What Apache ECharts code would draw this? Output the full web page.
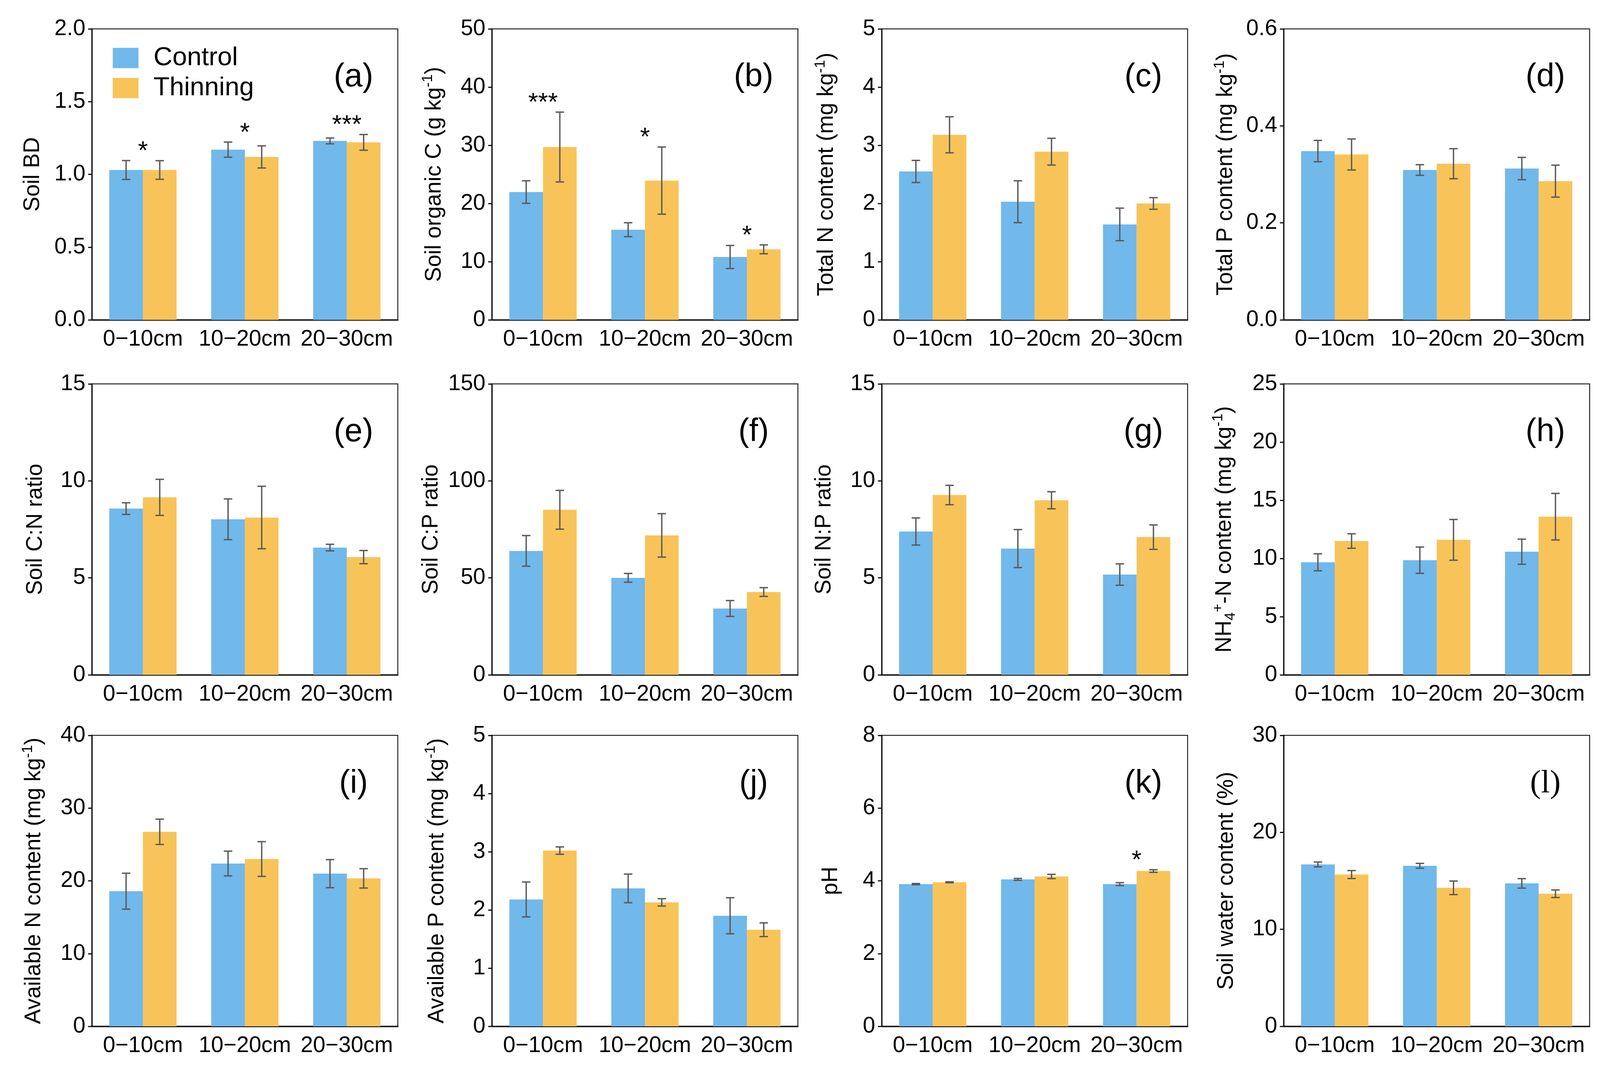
<!DOCTYPE html>
<html><head><meta charset="utf-8">
<script src="https://cdn.jsdelivr.net/npm/echarts@6/dist/echarts.min.js"></script>
<style>html,body{margin:0;padding:0;background:#fff;overflow:hidden}#c{width:100vw;height:100vh}</style>
</head><body><div id="c"></div>
<script>
// ---------- categories ----------
const depths = ['0\u221210cm', '10\u221220cm', '20\u221230cm'];
const treatments = ['Control', 'Thinning'];

// ---------- data (mean, standard error) ----------
const bd_control = [1.03, 1.17, 1.23];
const bd_control_se = [0.065, 0.052, 0.02];
const bd_thinning = [1.03, 1.12, 1.22];
const bd_thinning_se = [0.064, 0.076, 0.054];
const bd_sig = ['*', '*', '***'];

const soc_control = [21.96, 15.49, 10.8];
const soc_control_se = [1.94, 1.2, 1.98];
const soc_thinning = [29.7, 23.93, 12.12];
const soc_thinning_se = [6.0, 5.77, 0.76];
const soc_sig = ['***', '*', '*'];

const tn_control = [2.55, 2.03, 1.64];
const tn_control_se = [0.19, 0.36, 0.28];
const tn_thinning = [3.18, 2.89, 2.0];
const tn_thinning_se = [0.31, 0.23, 0.1];

const tp_control = [0.348, 0.309, 0.312];
const tp_control_se = [0.022, 0.011, 0.023];
const tp_thinning = [0.341, 0.322, 0.286];
const tp_thinning_se = [0.032, 0.031, 0.033];

const cn_control = [8.57, 8.02, 6.56];
const cn_control_se = [0.3, 1.05, 0.17];
const cn_thinning = [9.15, 8.11, 6.07];
const cn_thinning_se = [0.93, 1.61, 0.34];

const cp_control = [63.9, 50.0, 34.2];
const cp_control_se = [7.9, 2.26, 4.1];
const cp_thinning = [85.1, 71.9, 42.7];
const cp_thinning_se = [10.0, 11.2, 2.26];

const np_control = [7.39, 6.51, 5.17];
const np_control_se = [0.70, 0.98, 0.55];
const np_thinning = [9.27, 9.0, 7.1];
const np_thinning_se = [0.5, 0.44, 0.63];

const nh4_control = [9.67, 9.85, 10.58];
const nh4_control_se = [0.73, 1.13, 1.08];
const nh4_thinning = [11.5, 11.6, 13.59];
const nh4_thinning_se = [0.62, 1.75, 2.0];

const an_control = [18.58, 22.38, 20.99];
const an_control_se = [2.47, 1.7, 1.93];
const an_thinning = [26.74, 23.0, 20.34];
const an_thinning_se = [1.74, 2.39, 1.33];

const ap_control = [2.18, 2.37, 1.90];
const ap_control_se = [0.3, 0.246, 0.31];
const ap_thinning = [3.02, 2.13, 1.66];
const ap_thinning_se = [0.063, 0.063, 0.118];

const ph_control = [3.91, 4.04, 3.91];
const ph_control_se = [0.016, 0.026, 0.04];
const ph_thinning = [3.96, 4.12, 4.27];
const ph_thinning_se = [0.013, 0.059, 0.036];
const ph_sig = ['', '', '*'];

const swc_control = [16.69, 16.55, 14.74];
const swc_control_se = [0.25, 0.25, 0.49];
const swc_thinning = [15.65, 14.28, 13.67];
const swc_thinning_se = [0.41, 0.7, 0.39];

// ---------- y-axis tick settings ----------
const yMax = [2.0, 50, 5, 0.6, 15, 150, 15, 25, 40, 5, 8, 30];
const yInterval = [0.5, 10, 1, 0.2, 5, 50, 5, 5, 10, 1, 2, 10];
const yDecimals = [1, 0, 0, 1, 0, 0, 0, 0, 0, 0, 0, 0];
const letters = ['(a)', '(b)', '(c)', '(d)', '(e)', '(f)', '(g)', '(h)', '(i)', '(j)', '(k)', '(l)'];
const yTitles = [
  '{t|Soil BD}',
  '{t|Soil organic C (g kg}{s|-1}{t|)}',
  '{t|Total N content (mg kg}{s|-1}{t|)}',
  '{t|Total P content (mg kg}{s|-1}{t|)}',
  '{t|Soil C:N ratio}',
  '{t|Soil C:P ratio}',
  '{t|Soil N:P ratio}',
  '{t|NH}{b|4}{s|+}{t|-N content (mg kg}{s|-1}{t|)}',
  '{t|Available N content (mg kg}{s|-1}{t|)}',
  '{t|Available P content (mg kg}{s|-1}{t|)}',
  '{t|pH}',
  '{t|Soil water content (%)}'
];

const panels = [
  [bd_control, bd_control_se, bd_thinning, bd_thinning_se, bd_sig],
  [soc_control, soc_control_se, soc_thinning, soc_thinning_se, soc_sig],
  [tn_control, tn_control_se, tn_thinning, tn_thinning_se, null],
  [tp_control, tp_control_se, tp_thinning, tp_thinning_se, null],
  [cn_control, cn_control_se, cn_thinning, cn_thinning_se, null],
  [cp_control, cp_control_se, cp_thinning, cp_thinning_se, null],
  [np_control, np_control_se, np_thinning, np_thinning_se, null],
  [nh4_control, nh4_control_se, nh4_thinning, nh4_thinning_se, null],
  [an_control, an_control_se, an_thinning, an_thinning_se, null],
  [ap_control, ap_control_se, ap_thinning, ap_thinning_se, null],
  [ph_control, ph_control_se, ph_thinning, ph_thinning_se, ph_sig],
  [swc_control, swc_control_se, swc_thinning, swc_thinning_se, null]
];

// ---------- layout (reference pixels, scaled to the actual viewport) ----------
const el = document.getElementById('c');
const VW = el.clientWidth || window.innerWidth, VH = el.clientHeight || window.innerHeight;
const SX = VW / 4159, SY = VH / 2745, SF = Math.min(SX, SY);
const px = v => v * SX, py = v => v * SY, pf = v => v * SF;

const FONT = "'Liberation Sans', Arial, Helvetica, sans-serif";
const COL_LEFT = [239, 1279, 2292, 3337];
const ROW_TOP = [74, 983, 1883];
const GW = 795, GH = 745;
const NAME_GAP = [118, 115, 108, 115, 111, 123, 114, 119, 115, 108, 97, 113];
const BLUE = '#71B8EB', ORANGE = '#F8C459', ERR = '#5a5a5a';
const BAR_FRAC = 0.33;

const grids = [], xAxes = [], yAxes = [], series = [], graphics = [];

function errRenderer(params, api) {
  const cat = api.value(0), lo = api.value(1), hi = api.value(2), s = api.value(3);
  const band = api.size([1, 0])[0];
  const off = (s === 0 ? -1 : 1) * band * BAR_FRAC / 2;
  const pt = api.coord([cat, hi]);
  const pb = api.coord([cat, lo]);
  const x = pt[0] + off, cap = pf(11);
  const st = { stroke: ERR, lineWidth: pf(3.5) };
  return {
    type: 'group', children: [
      { type: 'line', shape: { x1: x, y1: pt[1], x2: x, y2: pb[1] }, style: st },
      { type: 'line', shape: { x1: x - cap, y1: pt[1], x2: x + cap, y2: pt[1] }, style: st },
      { type: 'line', shape: { x1: x - cap, y1: pb[1], x2: x + cap, y2: pb[1] }, style: st }
    ]
  };
}

panels.forEach((p, i) => {
  const [cm, cse, tm, tse, sig] = p;
  const row = Math.floor(i / 4), col = i % 4;
  const left = COL_LEFT[col], top = ROW_TOP[row];
  grids.push({ left: px(left), top: py(top), width: px(GW), height: py(GH), show: true,
    borderColor: '#222', borderWidth: pf(2.5), backgroundColor: 'transparent', containLabel: false });
  xAxes.push({
    type: 'category', gridIndex: i, data: depths, boundaryGap: true,
    axisLine: { lineStyle: { color: '#111', width: pf(3.5) } },
    axisTick: { show: false },
    axisLabel: { fontSize: pf(58), fontFamily: FONT, color: '#000', margin: py(22), interval: 0 }
  });
  const dec = yDecimals[i];
  yAxes.push({
    type: 'value', gridIndex: i, min: 0, max: yMax[i], interval: yInterval[i],
    name: yTitles[i], nameLocation: 'middle', nameGap: px(NAME_GAP[i]),
    nameTextStyle: {
      fontFamily: FONT, color: '#000',
      rich: {
        t: { fontSize: pf(58), fontFamily: FONT, color: '#000', lineHeight: pf(70) },
        s: { fontSize: pf(38), fontFamily: FONT, color: '#000', lineHeight: pf(38), verticalAlign: 'top' },
        b: { fontSize: pf(38), fontFamily: FONT, color: '#000', lineHeight: pf(38), verticalAlign: 'bottom' }
      }
    },
    axisLine: { show: true, lineStyle: { color: '#111', width: pf(3.5) } },
    axisTick: { show: true, inside: false, length: px(10), lineStyle: { color: '#111', width: pf(3) } },
    splitLine: { show: false },
    axisLabel: { fontSize: pf(58), fontFamily: FONT, color: '#000', margin: px(17),
      formatter: v => v.toFixed(dec) }
  });
  series.push({ type: 'bar', name: treatments[0], xAxisIndex: i, yAxisIndex: i, data: cm,
    barWidth: (BAR_FRAC * 100) + '%', barGap: '0%', itemStyle: { color: BLUE }, z: 2, silent: true });
  series.push({ type: 'bar', name: treatments[1], xAxisIndex: i, yAxisIndex: i, data: tm,
    barWidth: (BAR_FRAC * 100) + '%', barGap: '0%', itemStyle: { color: ORANGE }, z: 2, silent: true });
  const errData = [];
  for (let k = 0; k < depths.length; k++) {
    errData.push([k, cm[k] - cse[k], cm[k] + cse[k], 0]);
    errData.push([k, tm[k] - tse[k], tm[k] + tse[k], 1]);
  }
  series.push({ type: 'custom', xAxisIndex: i, yAxisIndex: i, data: errData,
    renderItem: errRenderer, z: 5, silent: true });
  if (sig) {
    const sigData = [];
    for (let k = 0; k < depths.length; k++) {
      sigData.push([k, Math.max(cm[k] + cse[k], tm[k] + tse[k])]);
    }
    series.push({ type: 'custom', xAxisIndex: i, yAxisIndex: i, data: sigData, z: 6, silent: true,
      renderItem: (params, api) => {
        const txt = sig[params.dataIndex];
        if (!txt) return null;
        const pt = api.coord([api.value(0), api.value(1)]);
        return { type: 'text', x: pt[0], y: pt[1] - py(22),
          style: { text: txt, font: pf(66) + 'px ' + FONT, fill: '#000',
            align: 'center', verticalAlign: 'middle', textAlign: 'center', textVerticalAlign: 'middle' } };
      } });
  }
  graphics.push({ type: 'text', x: px(left + GW - 115), y: py(top + 124), z: 10,
    style: { text: letters[i],
      font: pf(84) + 'px ' + (i === 11 ? "'Liberation Serif', 'Times New Roman', serif" : FONT),
      fill: '#000', align: 'center', verticalAlign: 'middle', textAlign: 'center', textVerticalAlign: 'middle' } });
});

const chart = echarts.init(el, null, { renderer: 'canvas', width: VW, height: VH });
chart.setOption({
  animation: false,
  backgroundColor: '#fff',
  grid: grids, xAxis: xAxes, yAxis: yAxes, series: series,
  legend: {
    data: treatments, orient: 'vertical', left: px(288), top: py(110),
    itemWidth: px(67), itemHeight: py(52), itemGap: py(10), icon: 'rect',
    textStyle: { fontSize: pf(68), fontFamily: FONT, color: '#000', lineHeight: py(52), padding: [0, 0, 0, px(34)] },
    selectedMode: false
  },
  graphic: graphics
});
</script></body></html>
